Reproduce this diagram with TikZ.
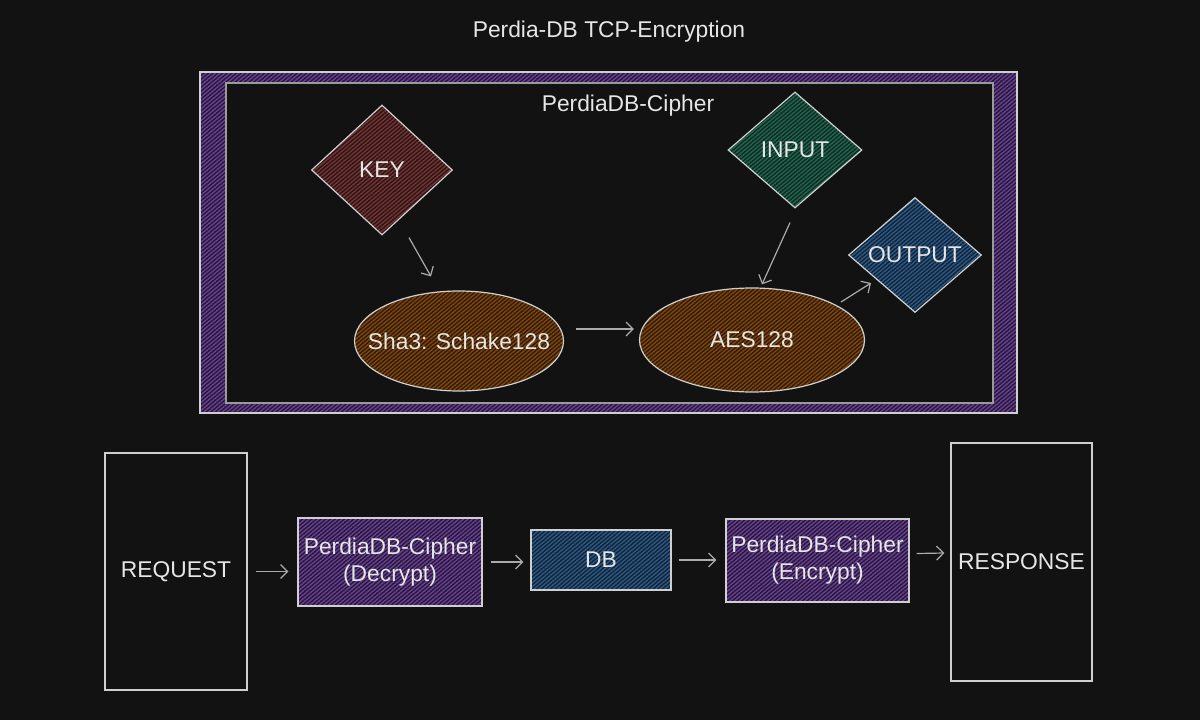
\documentclass[tikz,border=0pt]{standalone}
\usepackage{fontspec}
\setmainfont{Liberation Sans}
\usetikzlibrary{shapes.geometric,arrows.meta,patterns.meta,calc}
\definecolor{bg}{HTML}{121212}
\definecolor{edge}{HTML}{CFCFCF}
\definecolor{inedge}{HTML}{9A9A9A}
\definecolor{arrc}{HTML}{ABABAB}
\definecolor{txt}{HTML}{E6E6E6}
\definecolor{redbase}{HTML}{2A1414}\definecolor{redline}{HTML}{763535}
\definecolor{grnbase}{HTML}{0E2A22}\definecolor{grnline}{HTML}{226650}
\definecolor{blubase}{HTML}{10223A}\definecolor{bluline}{HTML}{2E5A82}
\definecolor{brnbase}{HTML}{2E1A06}\definecolor{brnline}{HTML}{80460F}
\definecolor{purbase}{HTML}{24163A}\definecolor{purline}{HTML}{6A4290}
\tikzset{
  lbl/.style={text=txt, font=\fontsize{22.8}{27}\selectfont, align=center, inner sep=0pt},
  shp/.style={lbl, draw=edge, line width=1.2pt},
  hatchpat/.style={pattern={Lines[angle=40,distance=3pt,line width=1.4pt]}, pattern color=#1},
  hatch/.style 2 args={preaction={fill=#1}, hatchpat=#2},
  dia/.style={shp, diamond},
  ell/.style={shp, ellipse, inner xsep=-25pt},
  box/.style={shp, rectangle},
  arr/.style={draw=arrc, line width=1.2pt, -{Straight Barb[length=7pt,width=14pt]}},
}
\begin{document}
\begin{tikzpicture}[x=1pt,y=-1pt]
\fill[bg] (0,0) rectangle (1200,720);
\useasboundingbox (0,0) rectangle (1200,720);

\node[lbl] (title) at (609,32) {Perdia-DB TCP-Encryption};

% cipher frame
\coordinate (fo1) at (200,72); \coordinate (fo2) at (1017,413);
\coordinate (fi1) at (226,83); \coordinate (fi2) at (993,403);
\fill[purbase, even odd rule] (fo1) rectangle (fo2) (fi1) rectangle (fi2);
\path[hatchpat=purline, even odd rule] (fo1) rectangle (fo2) (fi1) rectangle (fi2);
\draw[edge, line width=1.2pt] (fo1) rectangle (fo2);
\draw[inedge, line width=1.6pt] (fi1) rectangle (fi2);
\node[lbl] (ctitle) at (628,106) {PerdiaDB-Cipher};

\node[dia, hatch={redbase}{redline}, minimum width=141pt, minimum height=130pt] (key) at (382,170) {KEY};
\node[dia, hatch={grnbase}{grnline}, minimum width=134pt, minimum height=116pt] (inp) at (795,150) {INPUT};
\node[dia, hatch={blubase}{bluline}, minimum width=133pt, minimum height=115pt] (out) at (915,255) {OUTPUT};
\node[ell, hatch={brnbase}{brnline}, minimum width=209pt, minimum height=100pt] (sha) at (459,341) {Sha3: Schake128};
\node[ell, hatch={brnbase}{brnline}, minimum width=225pt, minimum height=104pt] (aes) at (752,340) {AES128};

\draw[arr] ($(key.south)+(27,2)$) -- ($(sha.north)+(-28,-14)$);
\draw[arr] ($(inp.south)+(-5,14)$) -- ($(aes.north)+(10,-3)$);
\draw[arr] ($(sha.east)+(12,-12)$) -- ($(aes.west)+(-5,-11)$);
\draw[arr] ($(aes.center)+(89,-38)$) -- ($(out.center)+(-44,28)$);

% bottom row
\node[box, minimum width=142pt, minimum height=237pt] (req) at (176,571.5) {REQUEST};
\node[box, hatch={purbase}{purline}, minimum width=184pt, minimum height=88pt] (dec) at (390,562) {PerdiaDB-Cipher\\(Decrypt)};
\node[box, hatch={blubase}{bluline}, minimum width=140pt, minimum height=60pt] (db) at (601,560) {DB};
\node[box, hatch={purbase}{purline}, minimum width=183pt, minimum height=83pt] (enc) at (817.5,560.5) {PerdiaDB-Cipher\\(Encrypt)};
\node[box, minimum width=141pt, minimum height=238pt] (res) at (1021.5,562) {RESPONSE};

\draw[arr, shorten <=8pt, shorten >=9pt] (req.east) -- (dec.west |- req.east);
\draw[arr, shorten <=8pt, shorten >=7pt] (dec.east) -- (db.west |- dec.east);
\draw[arr, shorten <=7pt, shorten >=9pt] (db.east) -- (enc.west |- db.east);
\draw[arr] ($(enc.east)+(7,-7)$) -- ($(res.west)+(-6,-9)$);
\end{tikzpicture}
\end{document}
